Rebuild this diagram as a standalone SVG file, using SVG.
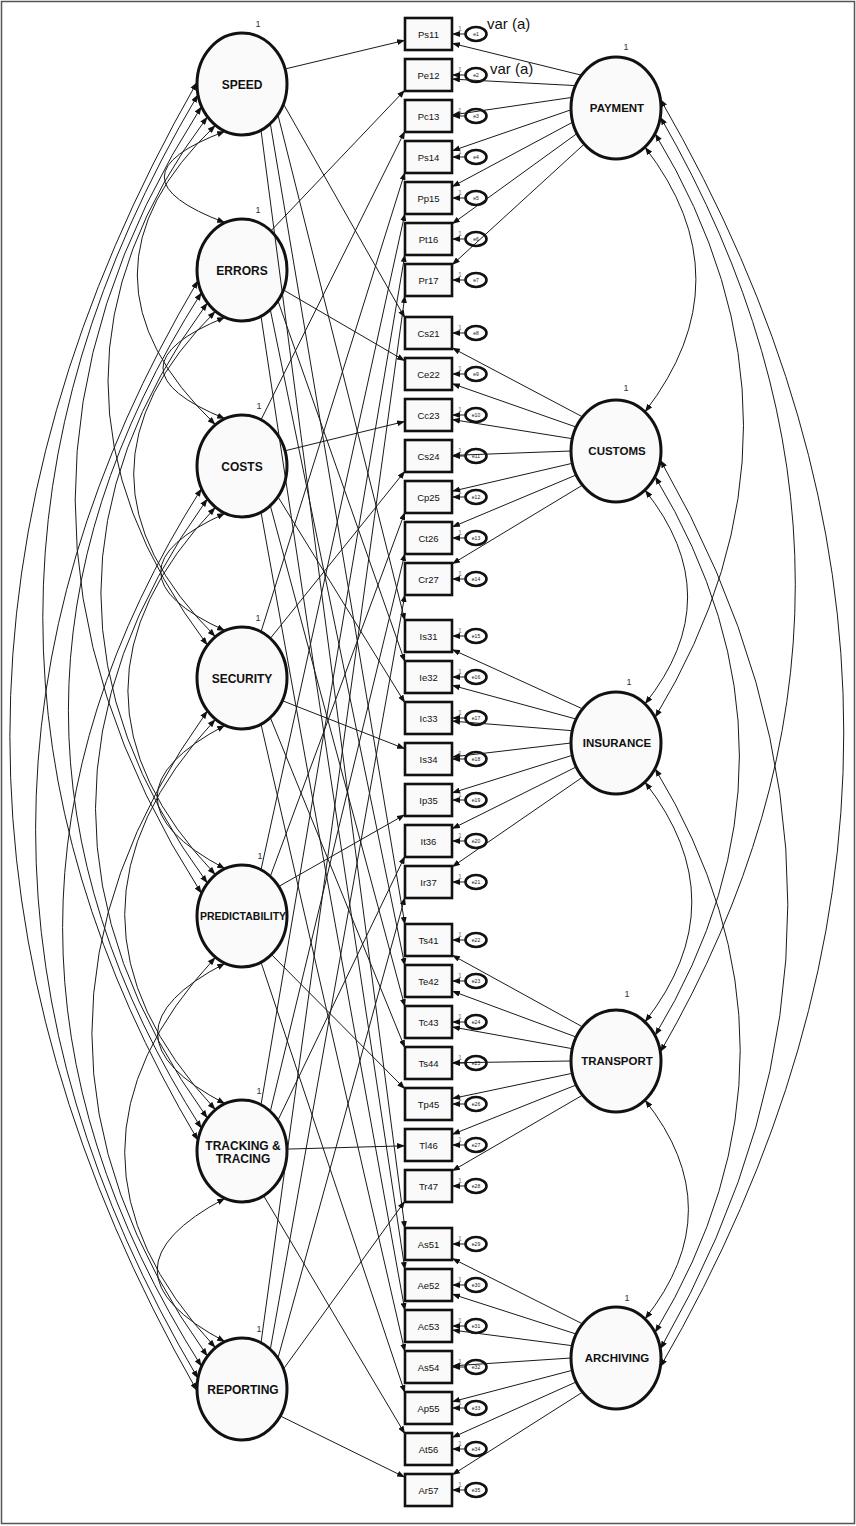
<svg xmlns="http://www.w3.org/2000/svg" width="856" height="1526" viewBox="0 0 856 1526">
<style>
.fac ellipse{fill:#fafafa;stroke:#111;stroke-width:3}
.box rect{fill:#fafafa;stroke:#111;stroke-width:2.6}
.err ellipse{fill:#fff;stroke:#111;stroke-width:2.6}
text{font-family:"Liberation Sans",Arial,sans-serif;fill:#111;text-anchor:middle}
.ft{font-weight:bold;font-size:12px}
.fr{font-weight:bold;font-size:11.5px}
.bt{font-size:9.5px}
.et{font-size:5px}
.one{font-size:9px;fill:#333}
.o7{font-size:7px;fill:#777}
.va{font-size:15px;text-anchor:start}
#conn path{fill:none;stroke:#1a1a1a;stroke-width:1}
#conn .a{marker-end:url(#ah)}
#conn .d{marker-start:url(#ah);marker-end:url(#ah)}
</style>
<defs>
<marker id="ah" viewBox="0 0 8 6" refX="8" refY="3" markerWidth="8" markerHeight="6" markerUnits="userSpaceOnUse" orient="auto-start-reverse"><path d="M0,0 L8,3 L0,6 z" fill="#111"/></marker>
</defs>
<rect x="1.5" y="1.5" width="853" height="1522" fill="#fff" stroke="#555" stroke-width="1.5"/>

<g id="f-speed" class="fac"><ellipse cx="242" cy="84" rx="45" ry="51"/><text class="ft" x="242" y="88.5">SPEED</text><text class="one" x="258" y="27">1</text></g>
<g id="f-errors" class="fac"><ellipse cx="242" cy="270" rx="45" ry="51"/><text class="ft" x="242" y="274.5">ERRORS</text><text class="one" x="258" y="213">1</text></g>
<g id="f-costs" class="fac"><ellipse cx="242" cy="466" rx="45" ry="51"/><text class="ft" x="242" y="470.5">COSTS</text><text class="one" x="259" y="409">1</text></g>
<g id="f-security" class="fac"><ellipse cx="242" cy="678" rx="45" ry="51"/><text class="ft" x="242" y="682.5">SECURITY</text><text class="one" x="258" y="621">1</text></g>
<g id="f-predictability" class="fac"><ellipse cx="242" cy="916" rx="45" ry="51"/><text class="ft" x="243" y="920" style="font-size:10.5px">PREDICTABILITY</text><text class="one" x="260" y="859">1</text></g>
<g id="f-tracking" class="fac"><ellipse cx="242" cy="1151" rx="45" ry="51"/><text class="ft" x="243" y="1150">TRACKING &amp;</text><text class="ft" x="243" y="1163">TRACING</text><text class="one" x="259" y="1094">1</text></g>
<g id="f-reporting" class="fac"><ellipse cx="242" cy="1389" rx="45" ry="51"/><text class="ft" x="243" y="1393.5">REPORTING</text><text class="one" x="259" y="1332">1</text></g>

<g id="f-payment" class="fac"><ellipse cx="616" cy="108" rx="45" ry="51"/><text class="fr" x="617" y="112">PAYMENT</text><text class="one" x="626" y="50">1</text></g>
<g id="f-customs" class="fac"><ellipse cx="616" cy="451" rx="45" ry="51"/><text class="fr" x="617" y="455">CUSTOMS</text><text class="one" x="626" y="391">1</text></g>
<g id="f-insurance" class="fac"><ellipse cx="616" cy="743" rx="45" ry="51"/><text class="fr" x="617" y="747">INSURANCE</text><text class="one" x="629" y="685">1</text></g>
<g id="f-transport" class="fac"><ellipse cx="616" cy="1061" rx="45" ry="51"/><text class="fr" x="617" y="1065">TRANSPORT</text><text class="one" x="627" y="997">1</text></g>
<g id="f-archiving" class="fac"><ellipse cx="616" cy="1358" rx="45" ry="51"/><text class="fr" x="617" y="1362">ARCHIVING</text><text class="one" x="627" y="1301">1</text></g>

<g id="b-Ps11" class="box"><rect x="405" y="18" width="47" height="32"/><text class="bt" x="428.5" y="37.5">Ps11</text></g>
<g id="b-Pe12" class="box"><rect x="405" y="59" width="47" height="32"/><text class="bt" x="428.5" y="78.5">Pe12</text></g>
<g id="b-Pc13" class="box"><rect x="405" y="100" width="47" height="32"/><text class="bt" x="428.5" y="119.5">Pc13</text></g>
<g id="b-Ps14" class="box"><rect x="405" y="141" width="47" height="32"/><text class="bt" x="428.5" y="160.5">Ps14</text></g>
<g id="b-Pp15" class="box"><rect x="405" y="182" width="47" height="32"/><text class="bt" x="428.5" y="201.5">Pp15</text></g>
<g id="b-Pt16" class="box"><rect x="405" y="223" width="47" height="32"/><text class="bt" x="428.5" y="242.5">Pt16</text></g>
<g id="b-Pr17" class="box"><rect x="405" y="264" width="47" height="32"/><text class="bt" x="428.5" y="283.5">Pr17</text></g>
<g id="b-Cs21" class="box"><rect x="405" y="317" width="47" height="32"/><text class="bt" x="428.5" y="336.5">Cs21</text></g>
<g id="b-Ce22" class="box"><rect x="405" y="358" width="47" height="32"/><text class="bt" x="428.5" y="377.5">Ce22</text></g>
<g id="b-Cc23" class="box"><rect x="405" y="399" width="47" height="32"/><text class="bt" x="428.5" y="418.5">Cc23</text></g>
<g id="b-Cs24" class="box"><rect x="405" y="440" width="47" height="32"/><text class="bt" x="428.5" y="459.5">Cs24</text></g>
<g id="b-Cp25" class="box"><rect x="405" y="481" width="47" height="32"/><text class="bt" x="428.5" y="500.5">Cp25</text></g>
<g id="b-Ct26" class="box"><rect x="405" y="522" width="47" height="32"/><text class="bt" x="428.5" y="541.5">Ct26</text></g>
<g id="b-Cr27" class="box"><rect x="405" y="563" width="47" height="32"/><text class="bt" x="428.5" y="582.5">Cr27</text></g>
<g id="b-Is31" class="box"><rect x="405" y="620" width="47" height="32"/><text class="bt" x="428.5" y="639.5">Is31</text></g>
<g id="b-Ie32" class="box"><rect x="405" y="661" width="47" height="32"/><text class="bt" x="428.5" y="680.5">Ie32</text></g>
<g id="b-Ic33" class="box"><rect x="405" y="702" width="47" height="32"/><text class="bt" x="428.5" y="721.5">Ic33</text></g>
<g id="b-Is34" class="box"><rect x="405" y="743" width="47" height="32"/><text class="bt" x="428.5" y="762.5">Is34</text></g>
<g id="b-Ip35" class="box"><rect x="405" y="784" width="47" height="32"/><text class="bt" x="428.5" y="803.5">Ip35</text></g>
<g id="b-It36" class="box"><rect x="405" y="825" width="47" height="32"/><text class="bt" x="428.5" y="844.5">It36</text></g>
<g id="b-Ir37" class="box"><rect x="405" y="866" width="47" height="32"/><text class="bt" x="428.5" y="885.5">Ir37</text></g>
<g id="b-Ts41" class="box"><rect x="405" y="924" width="47" height="32"/><text class="bt" x="428.5" y="943.5">Ts41</text></g>
<g id="b-Te42" class="box"><rect x="405" y="965" width="47" height="32"/><text class="bt" x="428.5" y="984.5">Te42</text></g>
<g id="b-Tc43" class="box"><rect x="405" y="1006" width="47" height="32"/><text class="bt" x="428.5" y="1025.5">Tc43</text></g>
<g id="b-Ts44" class="box"><rect x="405" y="1047" width="47" height="32"/><text class="bt" x="428.5" y="1066.5">Ts44</text></g>
<g id="b-Tp45" class="box"><rect x="405" y="1088" width="47" height="32"/><text class="bt" x="428.5" y="1107.5">Tp45</text></g>
<g id="b-Tl46" class="box"><rect x="405" y="1129" width="47" height="32"/><text class="bt" x="428.5" y="1148.5">Tl46</text></g>
<g id="b-Tr47" class="box"><rect x="405" y="1170" width="47" height="32"/><text class="bt" x="428.5" y="1189.5">Tr47</text></g>
<g id="b-As51" class="box"><rect x="405" y="1228" width="47" height="32"/><text class="bt" x="428.5" y="1247.5">As51</text></g>
<g id="b-Ae52" class="box"><rect x="405" y="1269" width="47" height="32"/><text class="bt" x="428.5" y="1288.5">Ae52</text></g>
<g id="b-Ac53" class="box"><rect x="405" y="1310" width="47" height="32"/><text class="bt" x="428.5" y="1329.5">Ac53</text></g>
<g id="b-As54" class="box"><rect x="405" y="1351" width="47" height="32"/><text class="bt" x="428.5" y="1370.5">As54</text></g>
<g id="b-Ap55" class="box"><rect x="405" y="1392" width="47" height="32"/><text class="bt" x="428.5" y="1411.5">Ap55</text></g>
<g id="b-At56" class="box"><rect x="405" y="1433" width="47" height="32"/><text class="bt" x="428.5" y="1452.5">At56</text></g>
<g id="b-Ar57" class="box"><rect x="405" y="1474" width="47" height="32"/><text class="bt" x="428.5" y="1493.5">Ar57</text></g>

<g id="e-e1" class="err"><ellipse cx="476" cy="34" rx="10.5" ry="7"/><text class="et" x="476" y="36">e1</text><text class="o7" x="460" y="31">1</text></g>
<g id="e-e2" class="err"><ellipse cx="476" cy="75" rx="10.5" ry="7"/><text class="et" x="476" y="77">e2</text><text class="o7" x="460" y="72">1</text></g>
<g id="e-e3" class="err"><ellipse cx="476" cy="116" rx="10.5" ry="7"/><text class="et" x="476" y="118">e3</text><text class="o7" x="460" y="113">1</text></g>
<g id="e-e4" class="err"><ellipse cx="476" cy="157" rx="10.5" ry="7"/><text class="et" x="476" y="159">e4</text><text class="o7" x="460" y="154">1</text></g>
<g id="e-e5" class="err"><ellipse cx="476" cy="198" rx="10.5" ry="7"/><text class="et" x="476" y="200">e5</text><text class="o7" x="460" y="195">1</text></g>
<g id="e-e6" class="err"><ellipse cx="476" cy="239" rx="10.5" ry="7"/><text class="et" x="476" y="241">e6</text><text class="o7" x="460" y="236">1</text></g>
<g id="e-e7" class="err"><ellipse cx="476" cy="280" rx="10.5" ry="7"/><text class="et" x="476" y="282">e7</text><text class="o7" x="460" y="277">1</text></g>
<g id="e-e8" class="err"><ellipse cx="476" cy="333" rx="10.5" ry="7"/><text class="et" x="476" y="335">e8</text><text class="o7" x="460" y="330">1</text></g>
<g id="e-e9" class="err"><ellipse cx="476" cy="374" rx="10.5" ry="7"/><text class="et" x="476" y="376">e9</text><text class="o7" x="460" y="371">1</text></g>
<g id="e-e10" class="err"><ellipse cx="476" cy="415" rx="10.5" ry="7"/><text class="et" x="476" y="417">e10</text><text class="o7" x="460" y="412">1</text></g>
<g id="e-e11" class="err"><ellipse cx="476" cy="456" rx="10.5" ry="7"/><text class="et" x="476" y="458">e11</text><text class="o7" x="460" y="453">1</text></g>
<g id="e-e12" class="err"><ellipse cx="476" cy="497" rx="10.5" ry="7"/><text class="et" x="476" y="499">e12</text><text class="o7" x="460" y="494">1</text></g>
<g id="e-e13" class="err"><ellipse cx="476" cy="538" rx="10.5" ry="7"/><text class="et" x="476" y="540">e13</text><text class="o7" x="460" y="535">1</text></g>
<g id="e-e14" class="err"><ellipse cx="476" cy="579" rx="10.5" ry="7"/><text class="et" x="476" y="581">e14</text><text class="o7" x="460" y="576">1</text></g>
<g id="e-e15" class="err"><ellipse cx="476" cy="636" rx="10.5" ry="7"/><text class="et" x="476" y="638">e15</text><text class="o7" x="460" y="633">1</text></g>
<g id="e-e16" class="err"><ellipse cx="476" cy="677" rx="10.5" ry="7"/><text class="et" x="476" y="679">e16</text><text class="o7" x="460" y="674">1</text></g>
<g id="e-e17" class="err"><ellipse cx="476" cy="718" rx="10.5" ry="7"/><text class="et" x="476" y="720">e17</text><text class="o7" x="460" y="715">1</text></g>
<g id="e-e18" class="err"><ellipse cx="476" cy="759" rx="10.5" ry="7"/><text class="et" x="476" y="761">e18</text><text class="o7" x="460" y="756">1</text></g>
<g id="e-e19" class="err"><ellipse cx="476" cy="800" rx="10.5" ry="7"/><text class="et" x="476" y="802">e19</text><text class="o7" x="460" y="797">1</text></g>
<g id="e-e20" class="err"><ellipse cx="476" cy="841" rx="10.5" ry="7"/><text class="et" x="476" y="843">e20</text><text class="o7" x="460" y="838">1</text></g>
<g id="e-e21" class="err"><ellipse cx="476" cy="882" rx="10.5" ry="7"/><text class="et" x="476" y="884">e21</text><text class="o7" x="460" y="879">1</text></g>
<g id="e-e22" class="err"><ellipse cx="476" cy="940" rx="10.5" ry="7"/><text class="et" x="476" y="942">e22</text><text class="o7" x="460" y="937">1</text></g>
<g id="e-e23" class="err"><ellipse cx="476" cy="981" rx="10.5" ry="7"/><text class="et" x="476" y="983">e23</text><text class="o7" x="460" y="978">1</text></g>
<g id="e-e24" class="err"><ellipse cx="476" cy="1022" rx="10.5" ry="7"/><text class="et" x="476" y="1024">e24</text><text class="o7" x="460" y="1019">1</text></g>
<g id="e-e25" class="err"><ellipse cx="476" cy="1063" rx="10.5" ry="7"/><text class="et" x="476" y="1065">e25</text><text class="o7" x="460" y="1060">1</text></g>
<g id="e-e26" class="err"><ellipse cx="476" cy="1104" rx="10.5" ry="7"/><text class="et" x="476" y="1106">e26</text><text class="o7" x="460" y="1101">1</text></g>
<g id="e-e27" class="err"><ellipse cx="476" cy="1145" rx="10.5" ry="7"/><text class="et" x="476" y="1147">e27</text><text class="o7" x="460" y="1142">1</text></g>
<g id="e-e28" class="err"><ellipse cx="476" cy="1186" rx="10.5" ry="7"/><text class="et" x="476" y="1188">e28</text><text class="o7" x="460" y="1183">1</text></g>
<g id="e-e29" class="err"><ellipse cx="476" cy="1244" rx="10.5" ry="7"/><text class="et" x="476" y="1246">e29</text><text class="o7" x="460" y="1241">1</text></g>
<g id="e-e30" class="err"><ellipse cx="476" cy="1285" rx="10.5" ry="7"/><text class="et" x="476" y="1287">e30</text><text class="o7" x="460" y="1282">1</text></g>
<g id="e-e31" class="err"><ellipse cx="476" cy="1326" rx="10.5" ry="7"/><text class="et" x="476" y="1328">e31</text><text class="o7" x="460" y="1323">1</text></g>
<g id="e-e32" class="err"><ellipse cx="476" cy="1367" rx="10.5" ry="7"/><text class="et" x="476" y="1369">e32</text><text class="o7" x="460" y="1364">1</text></g>
<g id="e-e33" class="err"><ellipse cx="476" cy="1408" rx="10.5" ry="7"/><text class="et" x="476" y="1410">e33</text><text class="o7" x="460" y="1405">1</text></g>
<g id="e-e34" class="err"><ellipse cx="476" cy="1449" rx="10.5" ry="7"/><text class="et" x="476" y="1451">e34</text><text class="o7" x="460" y="1446">1</text></g>
<g id="e-e35" class="err"><ellipse cx="476" cy="1490" rx="10.5" ry="7"/><text class="et" x="476" y="1492">e35</text><text class="o7" x="460" y="1487">1</text></g>

<g id="labels"><text class="va" x="487" y="28.5">var (a)</text><text class="va" x="490" y="73.5">var (a)</text></g>

<g id="conn">
<!-- left loadings -->
<path class="a" d="M285,69 L405,40.3"/>
<path class="a" d="M283.4,103.9 L405,318"/>
<path class="a" d="M277.9,114.7 L405,621"/>
<path class="a" d="M270.3,123.6 L405,925"/>
<path class="a" d="M261,130.2 L405,1229"/>
<path class="a" d="M270.9,230.9 L405,90"/>
<path class="a" d="M283.4,289.9 L405,360.9"/>
<path class="a" d="M277.9,300.7 L405,662"/>
<path class="a" d="M270.3,309.6 L405,966"/>
<path class="a" d="M261,316.2 L405,1270"/>
<path class="a" d="M261,419.8 L405,131"/>
<path class="a" d="M284.9,450.8 L405,421.4"/>
<path class="a" d="M277.9,496.7 L405,703"/>
<path class="a" d="M270.3,505.6 L405,1007"/>
<path class="a" d="M261,512.2 L405,1311"/>
<path class="a" d="M261,631.8 L405,172"/>
<path class="a" d="M270.3,638.4 L405,471"/>
<path class="a" d="M282.3,700.7 L405,748.8"/>
<path class="a" d="M270.3,717.6 L405,1048"/>
<path class="a" d="M261,724.2 L405,1352"/>
<path class="a" d="M261,869.8 L405,213"/>
<path class="a" d="M270.3,876.4 L405,512"/>
<path class="a" d="M278.7,886.5 L405,814.6"/>
<path class="a" d="M271.5,954.6 L405,1089"/>
<path class="a" d="M261,962.2 L405,1393"/>
<path class="a" d="M261,1104.8 L405,254"/>
<path class="a" d="M270.3,1111.4 L405,553"/>
<path class="a" d="M277.9,1120.3 L405,856"/>
<path class="a" d="M287,1149.1 L405,1145.8"/>
<path class="a" d="M263.6,1195.7 L405,1434"/>
<path class="a" d="M261,1342.8 L405,295"/>
<path class="a" d="M270.3,1349.4 L405,594"/>
<path class="a" d="M277.9,1358.3 L405,897"/>
<path class="a" d="M283.4,1369.1 L405,1201"/>
<path class="a" d="M280.2,1415.9 L405,1477.3"/>
<!-- right loadings -->
<path class="a" d="M581.5,75.2 L452,43.3"/>
<path class="a" d="M575.5,85.6 L452,79.1"/>
<path class="a" d="M572,97.4 L452,115"/>
<path class="a" d="M571,109.8 L452,150.9"/>
<path class="a" d="M572.8,122.1 L452,186.8"/>
<path class="a" d="M577,133.5 L452,224"/>
<path class="a" d="M584.2,144.1 L452,265"/>
<path class="a" d="M582.6,416.9 L452,347.8"/>
<path class="a" d="M576.3,427.1 L452,383.6"/>
<path class="a" d="M572.3,438.7 L452,419.5"/>
<path class="a" d="M571,451 L452,455.4"/>
<path class="a" d="M572.3,463.3 L452,491.3"/>
<path class="a" d="M576.3,474.9 L452,527.1"/>
<path class="a" d="M582.6,485.1 L452,564"/>
<path class="a" d="M582.6,708.9 L452,649.4"/>
<path class="a" d="M576.3,719.1 L452,685.3"/>
<path class="a" d="M572.3,730.7 L452,721.1"/>
<path class="a" d="M571,743 L452,757"/>
<path class="a" d="M572.3,755.3 L452,792.9"/>
<path class="a" d="M576.3,766.9 L452,828.8"/>
<path class="a" d="M582.6,777.1 L452,867"/>
<path class="a" d="M582.6,1026.9 L452,955"/>
<path class="a" d="M576.3,1037.1 L452,991"/>
<path class="a" d="M572.3,1048.7 L452,1026.9"/>
<path class="a" d="M571,1061 L452,1062.8"/>
<path class="a" d="M572.3,1073.3 L452,1098.6"/>
<path class="a" d="M576.3,1084.9 L452,1134.5"/>
<path class="a" d="M582.6,1095.1 L452,1171"/>
<path class="a" d="M582.6,1323.9 L452,1258.3"/>
<path class="a" d="M576.3,1334.1 L452,1294.1"/>
<path class="a" d="M572.3,1345.7 L452,1330"/>
<path class="a" d="M571,1358 L452,1365.9"/>
<path class="a" d="M572.3,1370.3 L452,1401.8"/>
<path class="a" d="M576.3,1381.9 L452,1437.6"/>
<path class="a" d="M582.6,1392.1 L452,1475"/>
<!-- error arrows -->
<path class="a" d="M465.5,34 L452,34"/>
<path class="a" d="M465.5,75 L452,75"/>
<path class="a" d="M465.5,116 L452,116"/>
<path class="a" d="M465.5,157 L452,157"/>
<path class="a" d="M465.5,198 L452,198"/>
<path class="a" d="M465.5,239 L452,239"/>
<path class="a" d="M465.5,280 L452,280"/>
<path class="a" d="M465.5,333 L452,333"/>
<path class="a" d="M465.5,374 L452,374"/>
<path class="a" d="M465.5,415 L452,415"/>
<path class="a" d="M465.5,456 L452,456"/>
<path class="a" d="M465.5,497 L452,497"/>
<path class="a" d="M465.5,538 L452,538"/>
<path class="a" d="M465.5,579 L452,579"/>
<path class="a" d="M465.5,636 L452,636"/>
<path class="a" d="M465.5,677 L452,677"/>
<path class="a" d="M465.5,718 L452,718"/>
<path class="a" d="M465.5,759 L452,759"/>
<path class="a" d="M465.5,800 L452,800"/>
<path class="a" d="M465.5,841 L452,841"/>
<path class="a" d="M465.5,882 L452,882"/>
<path class="a" d="M465.5,940 L452,940"/>
<path class="a" d="M465.5,981 L452,981"/>
<path class="a" d="M465.5,1022 L452,1022"/>
<path class="a" d="M465.5,1063 L452,1063"/>
<path class="a" d="M465.5,1104 L452,1104"/>
<path class="a" d="M465.5,1145 L452,1145"/>
<path class="a" d="M465.5,1186 L452,1186"/>
<path class="a" d="M465.5,1244 L452,1244"/>
<path class="a" d="M465.5,1285 L452,1285"/>
<path class="a" d="M465.5,1326 L452,1326"/>
<path class="a" d="M465.5,1367 L452,1367"/>
<path class="a" d="M465.5,1408 L452,1408"/>
<path class="a" d="M465.5,1449 L452,1449"/>
<path class="a" d="M465.5,1490 L452,1490"/>
<!-- left covariances -->
<path class="d" d="M225.1,131.3 Q103.5,177 225.1,222.7"/>
<path class="d" d="M225.1,317.3 Q100.9,368 225.1,418.7"/>
<path class="d" d="M225.1,513.3 Q96.3,572 225.1,630.7"/>
<path class="d" d="M225.1,725.3 Q89.3,797 225.1,868.7"/>
<path class="d" d="M225.1,963.3 Q90.1,1033.5 225.1,1103.7"/>
<path class="d" d="M225.1,1198.3 Q89.3,1270 225.1,1341.7"/>
<path class="d" d="M215.5,125.3 Q59.1,275 215.5,424.7"/>
<path class="d" d="M215.5,311.3 Q51.9,474 215.5,636.7"/>
<path class="d" d="M215.5,507.3 Q40.3,691 215.5,874.7"/>
<path class="d" d="M215.5,719.3 Q33.9,914.5 215.5,1109.7"/>
<path class="d" d="M215.5,957.3 Q33.9,1152.5 215.5,1347.7"/>
<path class="d" d="M207.5,116.8 Q8.5,381 207.5,645.2"/>
<path class="d" d="M207.5,302.8 Q-5.7,593 207.5,883.2"/>
<path class="d" d="M207.5,498.8 Q-16.5,808.5 207.5,1118.2"/>
<path class="d" d="M207.5,710.8 Q-23.7,1033.5 207.5,1356.2"/>
<path class="d" d="M201.6,106.4 Q-51.2,500 201.6,893.6"/>
<path class="d" d="M201.6,292.4 Q-64.8,710.5 201.6,1128.6"/>
<path class="d" d="M201.6,488.4 Q-76.4,927.5 201.6,1366.6"/>
<path class="d" d="M198,94.6 Q-112.4,617.5 198,1140.4"/>
<path class="d" d="M198,280.6 Q-126.8,829.5 198,1378.4"/>
<path class="d" d="M197,82.2 Q-177.2,736.5 197,1390.8"/>
<!-- right covariances -->
<path class="d" d="M644.9,147.1 Q746.9,279.5 644.9,411.9"/>
<path class="d" d="M644.9,490.1 Q730.3,597 644.9,703.9"/>
<path class="d" d="M644.9,782.1 Q738.7,902 644.9,1021.9"/>
<path class="d" d="M644.9,1100.1 Q731.9,1209.5 644.9,1318.9"/>
<path class="d" d="M655,133.5 Q832,425.5 655,717.5"/>
<path class="d" d="M655,476.5 Q823.8,756 655,1035.5"/>
<path class="d" d="M655,768.5 Q825.4,1050.5 655,1332.5"/>
<path class="d" d="M660.3,116.9 Q930.3,584.5 660.3,1052.1"/>
<path class="d" d="M660.3,459.9 Q915.3,904.5 660.3,1349.1"/>
<path class="d" d="M660.3,99.1 Q1027.2,733 660.3,1366.9"/>
</g>
</svg>
